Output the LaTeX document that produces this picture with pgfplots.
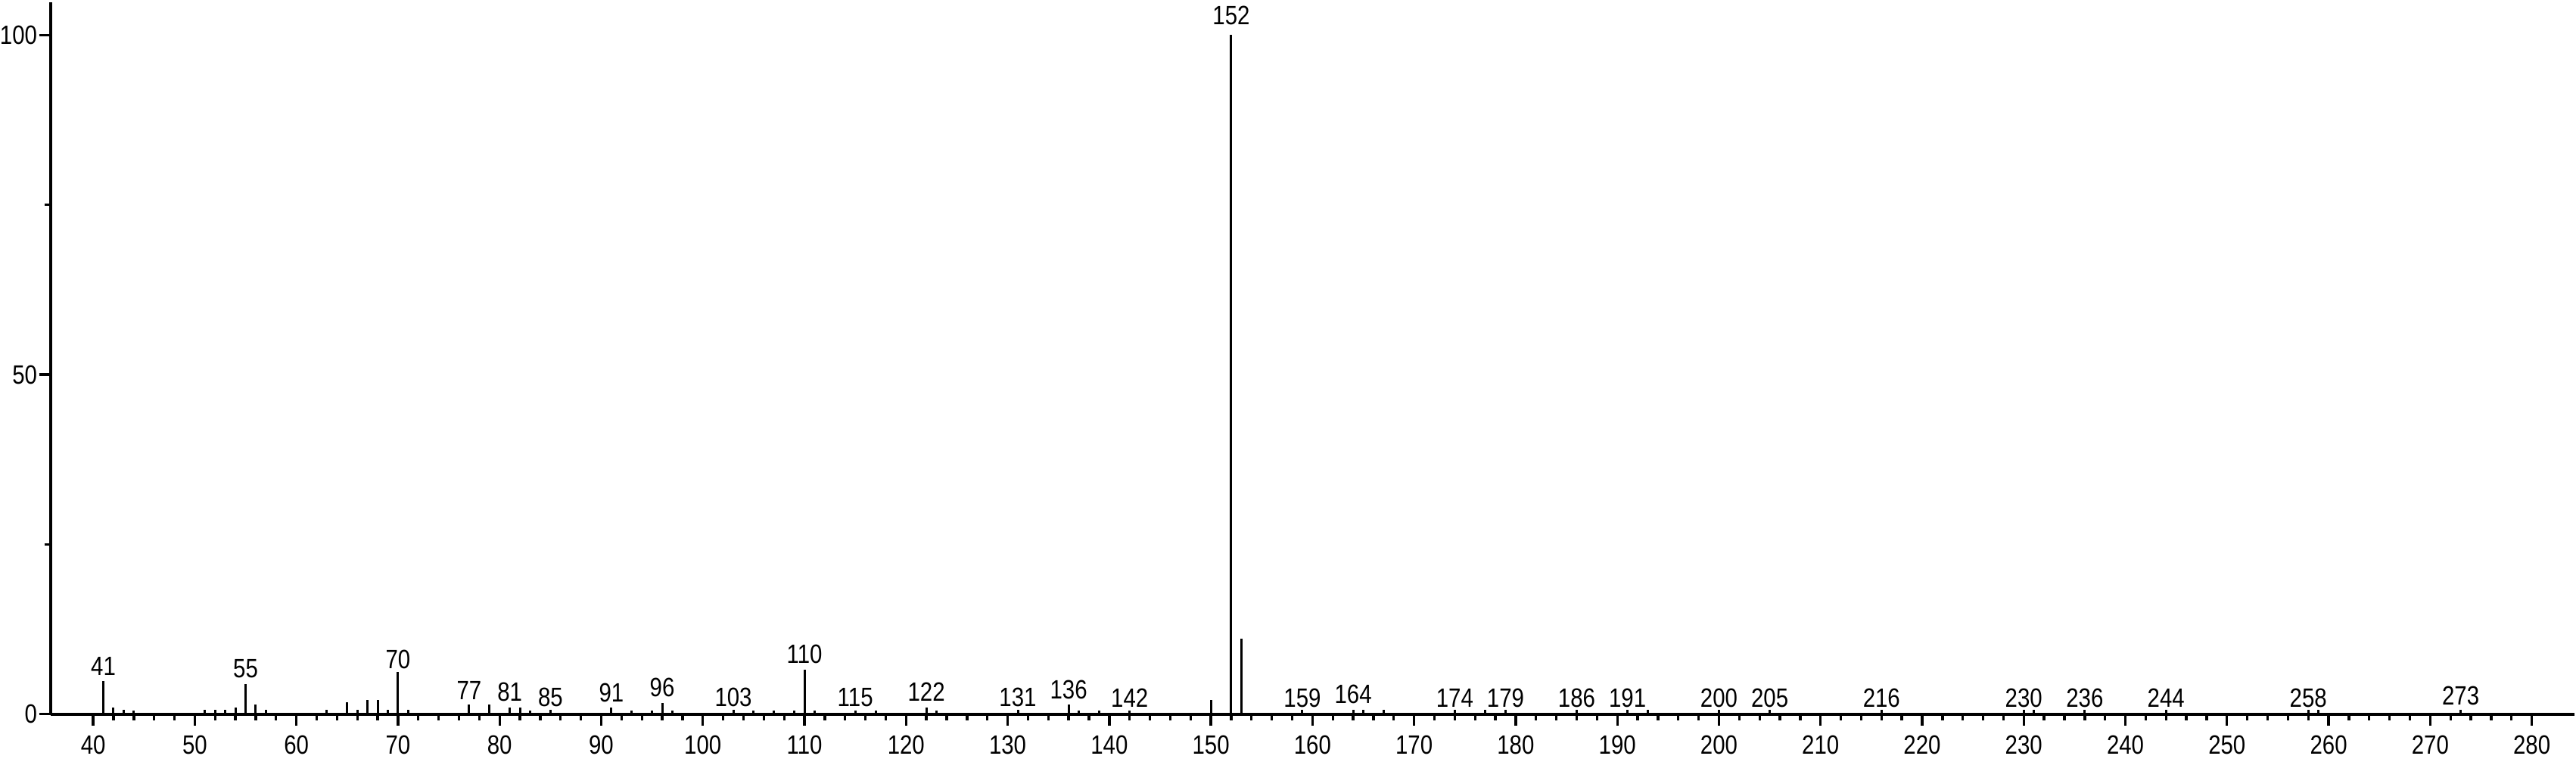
\documentclass[border=0pt]{standalone}
\usepackage{fontspec}
\setmainfont{Liberation Sans}[FakeStretch=0.84]
\usepackage{pgfplots}
\usepackage{pgfplotstable}
\pgfplotsset{compat=1.18}

\pgfplotstableread{
x y
41 4.83
42 0.93
43 0.67
44 0.5
51 0.67
52 0.63
53 0.63
54 1.0
55 4.46
56 1.38
57 0.63
63 0.67
65 1.75
66 0.63
67 2.05
68 2.05
69 0.63
70 6.2
71 0.67
77 1.41
79 1.41
81 0.93
82 0.93
83 0.56
85 0.63
91 0.93
93 0.56
95 0.56
96 1.67
97 0.56
103 0.63
105 0.5
107 0.56
109 0.56
110 6.5
111 0.56
115 0.56
117 0.56
122 0.93
123 0.56
131 0.67
136 1.38
137 0.56
139 0.56
142 0.56
150 2.05
152 100
153 11.16
159 0.67
164 0.6
165 0.6
167 0.6
174 0.6
177 0.6
179 0.6
186 0.6
191 0.6
193 0.6
200 0.6
205 0.6
216 0.6
230 0.6
231 0.6
236 0.6
244 0.6
258 0.6
259 0.6
273 0.6
}\peaks

\pgfplotstableread{
x y lab
41 5.6 41
55 5.3 55
70 6.6 70
77 2.05 77
81 1.8 81
85 1.0 85
91 1.67 91
96 2.5 96
103 1.0 103
110 7.36 110
115 1.0 115
122 1.8 122
131 1.0 131
136 2.1 136
142 1.0 142
152 101.4 152
159 0.93 159
164 1.5 164
174 0.93 174
179 0.93 179
186 0.93 186
191 0.93 191
200 0.93 200
205 0.93 205
216 0.93 216
230 0.93 230
236 0.93 236
244 0.93 244
258 0.93 258
273 1.3 273
}\labels

\begin{document}
\begin{tikzpicture}
\begin{axis}[
  scale only axis,
  width=1000.1pt, height=282pt,
  xmin=35.8, xmax=284.2, ymin=0, ymax=104.8,
  axis x line=bottom, axis y line=left,
  axis line style={-, line width=1.2pt, black},
  xtick={40,50,...,280},
  minor x tick num=4,
  ytick={0,50,100},
  minor y tick num=1,
  tick align=outside,
  major tick length=4.5pt,
  minor tick length=2.4pt,
  every tick/.style={line width=1pt, black},
  /pgf/number format/assume math mode=true,
  tick label style={font=\fontsize{10.5}{12}\selectfont},
  xticklabel style={inner sep=0pt},
  xticklabel shift=3.7pt,
  yticklabel style={inner sep=0pt},
  yticklabel shift=0.6pt,
  clip=false,
  after end axis/.code={
    \path (rel axis cs:0,0) ++(0pt,-17.5pt);
    \path (rel axis cs:1,1) ++(0.5pt,1pt);
  },
]
\addplot[ycomb, line width=0.9pt, black, mark=none] table[x=x, y=y] {\peaks};
\addplot[draw=none, mark=none, nodes near coords, point meta=explicit symbolic,
  every node near coord/.style={anchor=south, inner sep=0pt, black, font=\fontsize{10.5}{12}\selectfont}]
  table[x=x, y=y, meta=lab] {\labels};
\end{axis}
\end{tikzpicture}
\end{document}
